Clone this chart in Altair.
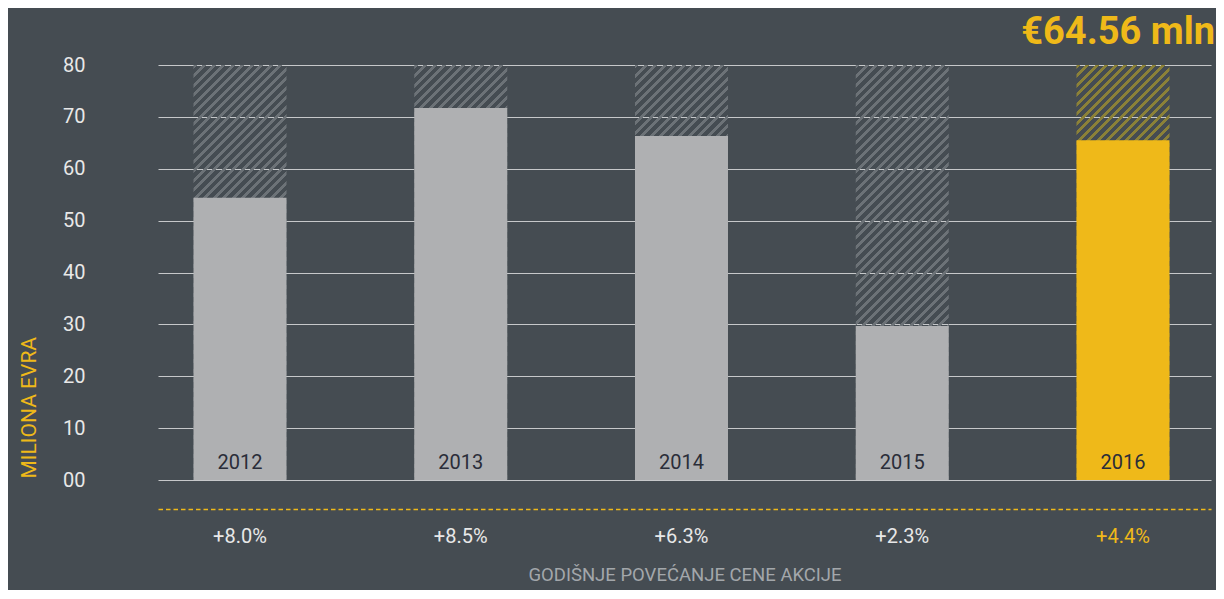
import altair as alt
import pandas as pd

# ---- data ----
years = ["2012", "2013", "2014", "2015", "2016"]
values = [54.4, 71.7, 66.3, 29.7, 65.5]
growth = ["+8.0%", "+8.5%", "+6.3%", "+2.3%", "+4.4%"]
highlight_year = "2016"
headline_value = 64.56
y_max = 80
y_ticks = [0, 10, 20, 30, 40, 50, 60, 70, 80]

df = pd.DataFrame({"year": years, "value": values, "growth": growth})

# ---- styling ----
BG = "#454c52"
GREY_BAR = "#afb0b2"
YELLOW = "#efb919"
TEXT = "#e8e8e8"
FONT = "Roboto"

W, H = 1053, 415
P_INNER, P_OUTER, ALIGN = 0.5787, 0.1744, 0.461
step = W / (len(years) - P_INNER + 2 * P_OUTER)
bw = step * (1 - P_INNER)


def hatch(color, period=9.5, thick=4.0, w=bw, h=H):
    a = (w + h) * w / (w * w + h * h)
    total = w + h
    clear = "rgba(0,0,0,0)"
    stops = []
    c = 0.0
    while c < total:
        s0 = c / total
        s1 = min((c + thick) / total, 1.0)
        stops += [
            {"offset": s0, "color": clear},
            {"offset": s0, "color": color},
            {"offset": s1, "color": color},
            {"offset": s1, "color": clear},
        ]
        c += period
    return alt.LinearGradient(
        gradient="linear", x1=0, y1=0, x2=a, y2=a * h / w, stops=stops
    )


label_map = "{" + ",".join(f"'{y}':'{g}'" for y, g in zip(years, growth)) + "}"

x_enc = alt.X(
    "year:N",
    sort=years,
    scale=alt.Scale(paddingInner=P_INNER, paddingOuter=P_OUTER, align=ALIGN, round=False),
    axis=alt.Axis(
        title="GODIŠNJE POVEĆANJE CENE AKCIJE",
        titleColor="#a3a7ab",
        titleFont=FONT,
        titleFontSize=18.5,
        titleFontWeight="normal",
        titlePadding=19,
        labelExpr=label_map + "[datum.label]",
        labelColor=alt.condition(
            f"datum.value == '{highlight_year}'", alt.value(YELLOW), alt.value(TEXT)
        ),
        labelFont=FONT,
        labelFontSize=20,
        labelPadding=17,
        labelAngle=0,
        ticks=False,
        domainColor=YELLOW,
        domainDash=[4.5, 3],
        domainWidth=1.5,
        offset=29,
        grid=False,
    ),
)

y_scale = alt.Scale(domain=[0, y_max], nice=False)
y_axis = alt.Axis(
    values=y_ticks,
    title="MILIONA EVRA",
    titleColor=YELLOW,
    titleFont=FONT,
    titleFontSize=21,
    titleFontWeight="normal",
    titleAngle=270,
    titleAlign="left",
    titleBaseline="middle",
    titleX=-129,
    titleY=H - 2,
    labelExpr="datum.value == 0 ? '00' : datum.label",
    labelColor=TEXT,
    labelFont=FONT,
    labelFontSize=20,
    labelPadding=73,
    ticks=False,
    domain=False,
    grid=True,
    gridColor="#c6c8ca",
    gridWidth=1,
)

base = alt.Chart(df)

hatch_grey = base.transform_filter(f"datum.year != '{highlight_year}'").mark_bar(
    color=hatch("#6c7277")
).encode(
    x=x_enc,
    y=alt.Y(datum=y_max, scale=y_scale, axis=y_axis),
    y2=alt.Y2(datum=0),
)

hatch_yellow = base.transform_filter(f"datum.year == '{highlight_year}'").mark_bar(
    color=hatch("#8b8138")
).encode(
    x=x_enc,
    y=alt.Y(datum=y_max, scale=y_scale),
    y2=alt.Y2(datum=0),
)

bars = base.mark_bar().encode(
    x=x_enc,
    y=alt.Y("value:Q", scale=y_scale),
    color=alt.condition(
        f"datum.year == '{highlight_year}'", alt.value(YELLOW), alt.value(GREY_BAR)
    ),
)

year_text = base.mark_text(
    font=FONT, fontSize=20, color="#2a2d39", baseline="middle", dy=-17
).encode(
    x=x_enc,
    y=alt.Y(datum=0, scale=y_scale),
    text="year:N",
)

chart = (
    alt.layer(hatch_grey, hatch_yellow, bars, year_text)
    .properties(
        width=W,
        height=H,
        title=alt.TitleParams(
            f"€{headline_value:.2f} mln",
            anchor="end",
            frame="group",
            font=FONT,
            fontSize=38,
            fontWeight="bold",
            color=YELLOW,
            dx=4,
            offset=3,
        ),
        background=BG,
        autosize=alt.AutoSizeParams(type="none"),
        padding={"left": 150, "top": 57, "right": 5, "bottom": 110},
    )
    .configure_view(stroke=None)
)

chart.save("out.html", embed_options={"renderer": "svg", "actions": False})
